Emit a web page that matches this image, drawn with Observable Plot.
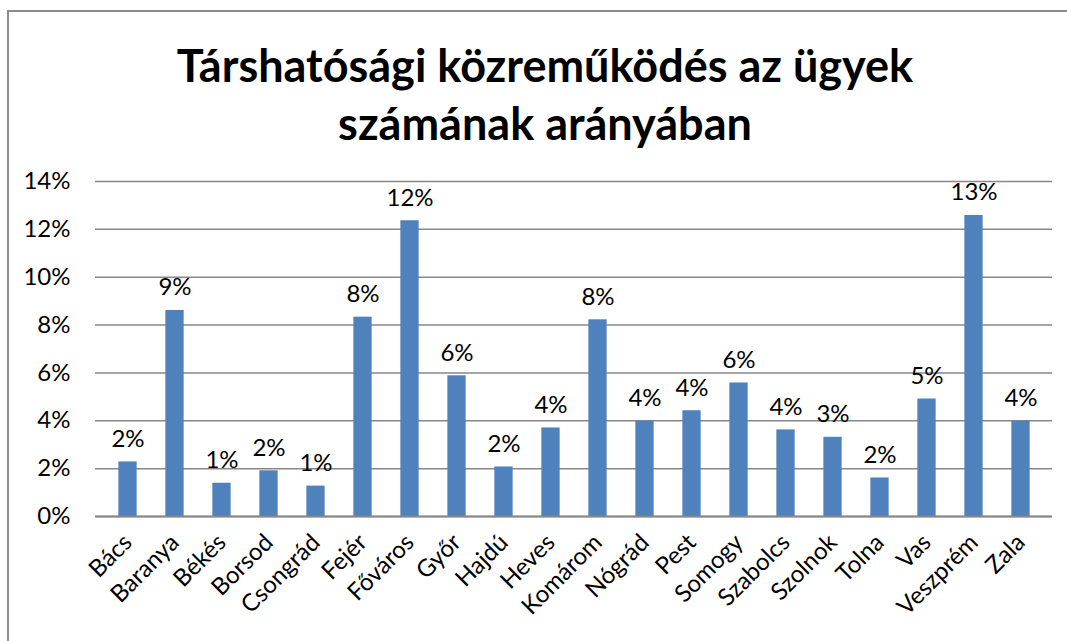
<!DOCTYPE html>
<html>
<head>
<meta charset="utf-8">
<script src="https://cdn.jsdelivr.net/npm/d3@7"></script>
<script src="https://cdn.jsdelivr.net/npm/@observablehq/plot@0.6"></script>
<style>
  html, body { margin: 0; padding: 0; background: #fff; overflow: hidden; }
  #frame { position: absolute; left: 7px; top: 10px; width: 1100px; height: 700px;
           border-left: 2px solid #8c8c8c; border-top: 2px solid #8c8c8c; box-sizing: border-box; }
  #title { position: absolute; left: 0; top: 36px; width: 1090px; text-align: center;
           font-family: Lato, "Open Sans", sans-serif; font-weight: bold; font-size: 45px;
           line-height: 58px; color: #000; }
  #chart { position: absolute; left: 0; top: 150px; }
</style>
</head>
<body>
<div id="frame"></div>
<div id="title">Társhatósági közreműködés az ügyek<br>számának arányában</div>
<div id="chart"></div>
<script>
const categories = ["Bács","Baranya","Békés","Borsod","Csongrád","Fejér","Főváros","Győr","Hajdú","Heves","Komárom","Nógrád","Pest","Somogy","Szabolcs","Szolnok","Tolna","Vas","Veszprém","Zala"];
const values = [0.0228,0.0861,0.0139,0.0191,0.0127,0.0833,0.1236,0.0588,0.0207,0.0370,0.0822,0.0398,0.0442,0.0558,0.0362,0.0331,0.0161,0.0491,0.1258,0.0398];
const yTicks = [0,0.02,0.04,0.06,0.08,0.10,0.12,0.14];

const data = categories.map((c, i) => ({category: c, value: values[i]}));
const fmt = d3.format(".0%");
const font = "Lato, 'Open Sans', sans-serif";

const W = 1067, ML = 95, MR = 15;
const step = (W - ML - MR) / categories.length;
const inset = step * 0.3;

const chart = Plot.plot({
  width: W,
  height: 491,
  marginLeft: ML,
  marginRight: MR,
  marginTop: 31,
  marginBottom: 125,
  style: {fontFamily: font, fontSize: "24px", color: "#000", background: "transparent"},
  x: {domain: categories, padding: 0, label: null},
  y: {domain: [0, 0.14], label: null},
  marks: [
    Plot.gridY(yTicks, {stroke: "#878787", strokeOpacity: 1, strokeWidth: 1.5}),
    Plot.axisY(yTicks, {tickFormat: fmt, tickSize: 0, tickPadding: 25, fontSize: 24, label: null}),
    Plot.axisX({tickSize: 0, tickRotate: -45, tickPadding: 22, fontSize: 24, label: null}),
    Plot.barY(data, {x: "category", y: "value", fill: "#4F81BD", insetLeft: inset, insetRight: inset}),
    Plot.ruleY([0], {stroke: "#878787", strokeWidth: 2}),
    Plot.ruleX([0], {x: () => null, frameAnchor: "left", stroke: "#878787", strokeWidth: 2}),
    Plot.text(data, {x: "category", y: "value", text: d => fmt(d.value), lineAnchor: "bottom", dy: -15, fontSize: 24, fill: "#000"})
  ]
});
document.getElementById("chart").appendChild(chart);
</script>
</body>
</html>
